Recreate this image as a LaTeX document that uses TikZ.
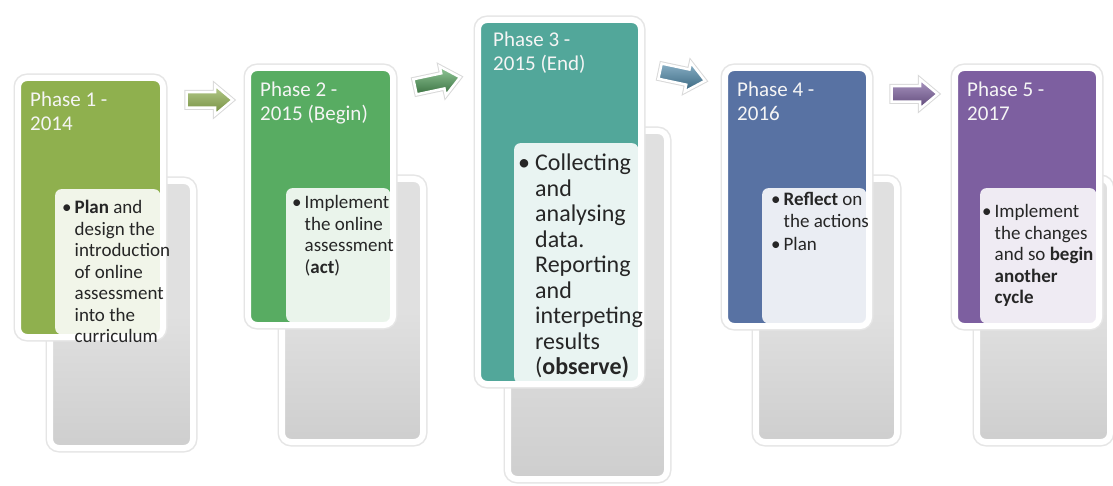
\documentclass[tikz,border=0pt]{standalone}
\usepackage{fontspec}
\setmainfont{Carlito}
\usetikzlibrary{shapes.arrows,positioning}
\definecolor{phaseone}{HTML}{8FB04E}
\definecolor{phasetwo}{HTML}{58AC62}
\definecolor{phasethree}{HTML}{52A79A}
\definecolor{phasefour}{HTML}{5872A3}
\definecolor{phasefive}{HTML}{7D5FA0}
\definecolor{arrowblue}{HTML}{4A86A8}
\definecolor{detailgray}{HTML}{E0E0E0}
\tikzstyle{phasebox}=[
	rectangle,
	rounded corners=9,
	draw=white,
	line width=6,
	preaction={draw=black!10,line width=9},
	anchor=north west,
	inner sep=0]
\tikzstyle{detailbox}=[
	phasebox,
	top color=detailgray,
	bottom color=detailgray!92!black,
	middle color=detailgray]
\tikzstyle{textpanel}=[
	rectangle,
	rounded corners=6,
	fill=white,
	fill opacity=0.88,
	anchor=north west,
	inner sep=0]
\tikzstyle{phasetitle}=[
	anchor=base west,
	inner sep=0,
	text=white!96!black,
	font=\fontsize{21}{24}\selectfont]
\tikzstyle{phasetext}=[
	anchor=base west,
	inner sep=0,
	text=black!85,
	font=\fontsize{19}{21.5}\selectfont]
\tikzstyle{flowarrow}=[
	single arrow,
	single arrow head extend=7,
	single arrow tip angle=80,
	minimum height=46,
	inner xsep=0,
	inner ysep=6.5,
	draw=white,
	line width=2.5,
	preaction={draw=black!15,line width=4.5}]

\begin{document}
\begin{tikzpicture}[x=1pt,y=-1pt]
	\useasboundingbox[fill=white] (0,0) rectangle (1113,486);
	% phase 1
	\node[detailbox,minimum width=143,minimum height=267] (det1) at (47,178) {};
	\node[phasebox,fill=phaseone,minimum width=145,minimum height=259] (ph1) at (15,75) {};
	\node[textpanel,minimum width=105,minimum height=145] (pan1) at (55,189) {};
	\node[phasetitle] (tit1) at (30,107) {\begin{tabular}[t]{@{}l@{}}Phase 1 -\\2014\end{tabular}};
	\node[phasetext] (txt1) at (62,214) {\begin{tabular}[t]{@{}l@{\hspace{3pt}}l@{}}
		\textbullet & \textbf{Plan} and\\ & design the\\ & introduction\\ & of online\\ & assessment\\ & into the\\ & curriculum\end{tabular}};
	% phase 2
	\node[detailbox,minimum width=141,minimum height=263] (det2) at (279,176) {};
	\node[phasebox,fill=phasetwo,minimum width=145,minimum height=257] (ph2) at (245,65) {};
	\node[textpanel,minimum width=104,minimum height=134] (pan2) at (286,188) {};
	\node[phasetitle] (tit2) at (260,97) {\begin{tabular}[t]{@{}l@{}}Phase 2 -\\2015 (Begin)\end{tabular}};
	\node[phasetext] (txt2) at (292,209) {\begin{tabular}[t]{@{}l@{\hspace{3pt}}l@{}}
		\textbullet & Implement\\ & the online\\ & assessment\\ & (\textbf{act})\end{tabular}};
	% phase 3
	\node[detailbox,minimum width=159,minimum height=348] (det3) at (505,128) {};
	\node[phasebox,fill=phasethree,minimum width=163,minimum height=364] (ph3) at (475,17) {};
	\node[textpanel,minimum width=124,minimum height=240] (pan3) at (514,143) {};
	\node[phasetitle] (tit3) at (493,47) {\begin{tabular}[t]{@{}l@{}}Phase 3 -\\2015 (End)\end{tabular}};
	\node[phasetext,font=\fontsize{24}{25.5}\selectfont] (txt3) at (518,171) {\begin{tabular}[t]{@{}l@{\hspace{5pt}}l@{}}
		\textbullet & Collecting\\ & and\\ & analysing\\ & data.\\ & Reporting\\ & and\\ & interpeting\\ & results\\ & (\textbf{observe)}\end{tabular}};
	% phase 4
	\node[detailbox,minimum width=141,minimum height=263] (det4) at (753,176) {};
	\node[phasebox,fill=phasefour,minimum width=144,minimum height=258] (ph4) at (722,65) {};
	\node[textpanel,minimum width=104,minimum height=135] (pan4) at (762,188) {};
	\node[phasetitle] (tit4) at (737,97) {\begin{tabular}[t]{@{}l@{}}Phase 4 -\\2016\end{tabular}};
	\node[phasetext] (txt4) at (771,206) {\begin{tabular}[t]{@{}l@{\hspace{3pt}}l@{}}
		\textbullet & \textbf{Reflect} on\\ & the actions\\[2pt] \textbullet & Plan\end{tabular}};
	% phase 5
	\node[detailbox,minimum width=133,minimum height=263] (det5) at (974,176) {};
	\node[phasebox,fill=phasefive,minimum width=144,minimum height=258] (ph5) at (952,65) {};
	\node[textpanel,minimum width=116,minimum height=135] (pan5) at (980,188) {};
	\node[phasetitle] (tit5) at (967,97) {\begin{tabular}[t]{@{}l@{}}Phase 5 -\\2017\end{tabular}};
	\node[phasetext] (txt5) at (982,218) {\begin{tabular}[t]{@{}l@{\hspace{3pt}}l@{}}
		\textbullet & Implement\\ & the changes\\ & and so \textbf{begin}\\ & \textbf{another}\\ & \textbf{cycle}\end{tabular}};
	% arrows between phases
	\node[flowarrow,top color=phaseone!65!white,bottom color=phaseone!80!black] (arr1) at (205,100) {};
	\node[flowarrow,rotate=12,top color=phasetwo!65!white,bottom color=phasetwo!65!black] (arr2) at (433,83) {};
	\node[flowarrow,rotate=-12,top color=arrowblue!65!white,bottom color=arrowblue!75!black] (arr3) at (678,75) {};
	\node[flowarrow,top color=phasefive!65!white,bottom color=phasefive!75!black] (arr4) at (910,94) {};
\end{tikzpicture}
\end{document}
